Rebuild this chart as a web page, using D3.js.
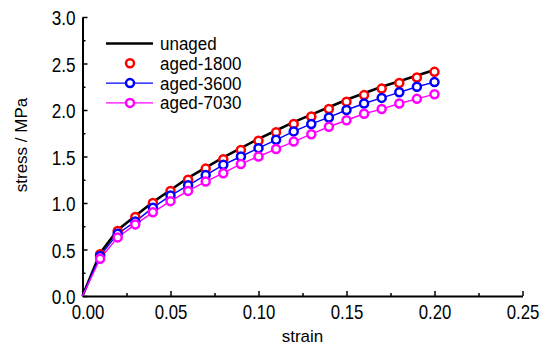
<!DOCTYPE html>
<html>
<head>
<meta charset="utf-8">
<script src="https://cdn.jsdelivr.net/npm/d3@7"></script>
<style>
  body { margin: 0; background: #fff; }
  svg text { font-family: "Liberation Sans", Arial, sans-serif; }
</style>
</head>
<body>
<div id="vis-container"></div>
<script>
const width = 542;
const height = 347;
const margin = { top: 17, right: 19.5, bottom: 51, left: 82.5 };

// strain values (origin + one point every 0.01)
const strain = [0, 0.01, 0.02, 0.03, 0.04, 0.05, 0.06, 0.07, 0.08, 0.09, 0.10,
                0.11, 0.12, 0.13, 0.14, 0.15, 0.16, 0.17, 0.18, 0.19, 0.20];

const unaged   = [0, 0.46, 0.71, 0.86, 1.01, 1.14, 1.27, 1.38, 1.49, 1.59, 1.69,
                  1.78, 1.87, 1.95, 2.03, 2.11, 2.18, 2.25, 2.31, 2.37, 2.43];
const aged1800 = [0, 0.45, 0.70, 0.85, 1.00, 1.13, 1.25, 1.37, 1.47, 1.57, 1.67,
                  1.76, 1.85, 1.93, 2.01, 2.09, 2.16, 2.23, 2.29, 2.35, 2.41];
const aged3600 = [0, 0.43, 0.67, 0.80, 0.95, 1.08, 1.19, 1.30, 1.41, 1.50, 1.59,
                  1.68, 1.77, 1.85, 1.92, 2.00, 2.07, 2.13, 2.19, 2.25, 2.30];
const aged7030 = [0, 0.40, 0.63, 0.77, 0.90, 1.02, 1.13, 1.23, 1.32, 1.42, 1.50,
                  1.58, 1.66, 1.74, 1.82, 1.89, 1.96, 2.01, 2.07, 2.12, 2.17];

const xTicks = [0, 0.05, 0.10, 0.15, 0.20, 0.25];
const yTicks = [0, 0.5, 1.0, 1.5, 2.0, 2.5, 3.0];

const series = [
  { name: "unaged",    values: unaged,   color: "#000000", line: true,  marker: false, lw: 2.6 },
  { name: "aged-1800", values: aged1800, color: "#ff0000", line: false, marker: true,  lw: 0 },
  { name: "aged-3600", values: aged3600, color: "#0000ff", line: true,  marker: true,  lw: 1.4 },
  { name: "aged-7030", values: aged7030, color: "#ff00ff", line: true,  marker: true,  lw: 1.4 }
];

const svg = d3.select("#vis-container")
              .append("svg")
              .attr("width", width)
              .attr("height", height);

const x = d3.scaleLinear()
            .domain([0, 0.25])
            .range([margin.left, width - margin.right]);

const y = d3.scaleLinear()
            .domain([0, 3.0])
            .range([height - margin.bottom, margin.top]);

// minor ticks (inward, no labels)
svg.append("g")
   .attr("transform", `translate(0,${height - margin.bottom})`)
   .call(d3.axisTop(x).tickValues(d3.range(0.025, 0.25, 0.05)).tickSize(3).tickFormat(""))
   .call(g => g.select(".domain").remove())
   .selectAll("line").attr("stroke-width", 1.5);

svg.append("g")
   .attr("transform", `translate(${margin.left},0)`)
   .call(d3.axisRight(y).tickValues(d3.range(0.25, 3.0, 0.5)).tickSize(3).tickFormat(""))
   .call(g => g.select(".domain").remove())
   .selectAll("line").attr("stroke-width", 1.5);

// x axis: ticks inward, labels below (text is a bit condensed in the original)
const xs = 0.84;
const xAxis = svg.append("g")
   .attr("transform", `translate(0,${height - margin.bottom})`)
   .call(d3.axisBottom(x).tickValues(xTicks).tickSizeOuter(0).tickSizeInner(-5)
           .tickPadding(9).tickFormat(d3.format(".2f")));
xAxis.select(".domain").attr("stroke-width", 2);
xAxis.selectAll("line").attr("stroke-width", 1.5);
xAxis.selectAll("text")
     .attr("font-size", "20px")
     .attr("fill", "#000")
     .attr("x", (d, i) => i === 0 ? 5 / xs : 0)
     .attr("transform", `scale(${xs},1)`);

// y axis
const ys = 0.88;
const yAxis = svg.append("g")
   .attr("transform", `translate(${margin.left},0)`)
   .call(d3.axisLeft(y).tickValues(yTicks).tickSizeOuter(0).tickSizeInner(-5)
           .tickPadding(7).tickFormat(d3.format(".1f")));
yAxis.select(".domain").attr("stroke-width", 2);
yAxis.selectAll("line").attr("stroke-width", 1.5);
yAxis.selectAll("text")
     .attr("font-size", "19.5px")
     .attr("fill", "#000")
     .attr("x", -7 / ys)
     .attr("dy", "0.4em")
     .attr("transform", `scale(${ys},1)`);

// axis titles
svg.append("text")
   .attr("x", (margin.left + width - margin.right) / 2)
   .attr("y", 342)
   .attr("text-anchor", "middle")
   .attr("font-size", "17px")
   .text("strain");

svg.append("text")
   .attr("transform", "translate(27,145) rotate(-90)")
   .attr("text-anchor", "middle")
   .attr("font-size", "17px")
   .text("stress / MPa");

// curves
const line = d3.line()
               .x((d, i) => x(strain[i]))
               .y(d => y(d));

series.forEach(s => {
  if (s.line) {
    svg.append("path")
       .datum(s.values)
       .attr("fill", "none")
       .attr("stroke", s.color)
       .attr("stroke-width", s.lw)
       .attr("d", line);
  }
});

series.forEach(s => {
  if (!s.marker) return;
  svg.append("g")
     .selectAll("circle")
     .data(s.values.slice(1))
     .enter()
       .append("circle")
       .attr("cx", (d, i) => x(strain[i + 1]))
       .attr("cy", d => y(d))
       .attr("r", 4)
       .attr("fill", "#fff")
       .attr("stroke", s.color)
       .attr("stroke-width", 2.5);
});

// legend
const ls = 0.92;
const legend = svg.append("g");
series.forEach((s, i) => {
  const ly = 43.5 + i * 19.8;
  if (s.line) {
    legend.append("line")
          .attr("x1", 106).attr("x2", 153)
          .attr("y1", ly).attr("y2", ly)
          .attr("stroke", s.color)
          .attr("stroke-width", s.lw);
  }
  if (s.marker) {
    legend.append("circle")
          .attr("cx", 130).attr("cy", ly)
          .attr("r", 4)
          .attr("fill", "#fff")
          .attr("stroke", s.color)
          .attr("stroke-width", 2.5);
  }
  legend.append("text")
        .attr("x", 160 / ls)
        .attr("y", ly + 6.5)
        .attr("font-size", "18.5px")
        .attr("transform", `scale(${ls},1)`)
        .text(s.name);
});
</script>
</body>
</html>
